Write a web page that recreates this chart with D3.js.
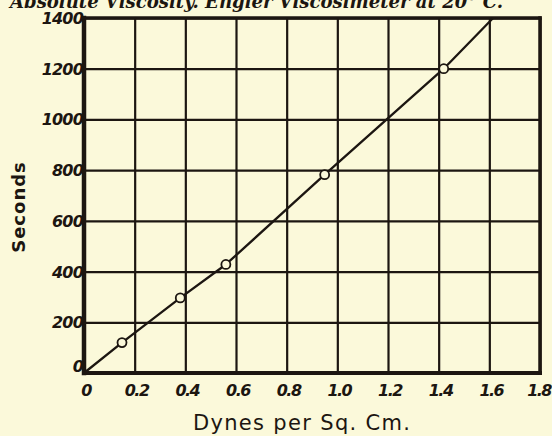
<!DOCTYPE html>
<html>
<head>
<meta charset="utf-8">
<script src="https://cdn.jsdelivr.net/npm/d3@7"></script>
<style>
  html, body { margin: 0; padding: 0; background: #fbf9da; }
  svg { display: block; }
</style>
</head>
<body>
<svg id="chart" width="552" height="436"></svg>
<script>
const svgEl = document.getElementById('chart')
const width = +svgEl.getAttribute('width')
const height = +svgEl.getAttribute('height')
const svg = d3.select('#chart')
const paper = '#fbf9da'
const ink = '#1c1611'

// measured points (dynes per sq cm, seconds)
const dynes = [0.15, 0.38, 0.56, 0.95, 1.42]
const seconds = [120, 296, 428, 782, 1200]
// hand drawn line: from the origin through the points to the top edge
const lineX = [0, 0.15, 0.38, 0.56, 0.95, 1.42, 1.615]
const lineY = [0, 120, 296, 428, 782, 1200, 1400]

const xTicks = [0, 0.2, 0.4, 0.6, 0.8, 1.0, 1.2, 1.4, 1.6, 1.8]
const xTickLabels = ['0', '0.2', '0.4', '0.6', '0.8', '1.0', '1.2', '1.4', '1.6', '1.8']
const yTicks = [0, 200, 400, 600, 800, 1000, 1200, 1400]

const pLeft = 84, pRight = 540, pTop = 18, pBottom = 373

const xScale = d3.scaleLinear().domain([0, 1.8]).range([pLeft, pRight])
const yScale = d3.scaleLinear().domain([0, 1400]).range([pBottom, pTop])

svg.append('rect')
  .attr('width', width).attr('height', height)
  .attr('fill', paper)

// caption line, cut off at the top of the page
svg.append('text')
  .attr('x', 10).attr('y', 8)
  .attr('textLength', 493)
  .attr('lengthAdjust', 'spacingAndGlyphs')
  .attr('font-family', 'DejaVu Serif')
  .attr('font-style', 'italic')
  .attr('font-weight', 'bold')
  .attr('font-size', 18)
  .attr('fill', ink)
  .text('Absolute Viscosity. Engler Viscosimeter at 20° C.')

// grid
svg.append('g')
  .attr('transform', `translate(0, ${pBottom})`)
  .call(d3.axisBottom(xScale).tickValues(xTicks).tickSize(-(pBottom - pTop)).tickFormat(''))
svg.append('g')
  .attr('transform', `translate(${pLeft}, 0)`)
  .call(d3.axisLeft(yScale).tickValues(yTicks).tickSize(-(pRight - pLeft)).tickFormat(''))

svg.selectAll('.domain').remove()
svg.selectAll('.tick line')
  .attr('stroke', ink)
  .attr('stroke-width', 2.2)

// heavy frame
const frame = [
  [pLeft, pBottom, pRight, pBottom, 4],
  [pLeft, pTop, pLeft, pBottom, 4.5],
  [pLeft, pTop, pRight, pTop, 3.5],
  [pRight, pTop, pRight, pBottom, 3.5]
]
svg.selectAll('line.frame')
  .data(frame)
  .enter()
  .append('line')
    .attr('class', 'frame')
    .attr('x1', d => d[0]).attr('y1', d => d[1])
    .attr('x2', d => d[2]).attr('y2', d => d[3])
    .attr('stroke', ink)
    .attr('stroke-width', d => d[4])
    .attr('stroke-linecap', 'square')

// tick labels (last one kept inside the page edge)
svg.selectAll('text.xlab')
  .data(xTicks)
  .enter()
  .append('text')
    .attr('class', 'xlab')
    .attr('x', (d, i) => i === xTicks.length - 1 ? width - 1 : xScale(d) + 2)
    .attr('y', pBottom + 23)
    .attr('text-anchor', (d, i) => i === xTicks.length - 1 ? 'end' : 'middle')
    .attr('font-family', 'DejaVu Sans')
    .attr('font-weight', 'bold')
    .attr('font-style', 'oblique')
    .attr('font-size', 16)
    .attr('letter-spacing', -1.5)
    .attr('fill', ink)
    .text((d, i) => xTickLabels[i])

svg.selectAll('text.ylab')
  .data(yTicks)
  .enter()
  .append('text')
    .attr('class', 'ylab')
    .attr('x', pLeft - 1)
    .attr('y', d => yScale(d) + (d === 0 ? -1 : 6))
    .attr('text-anchor', 'end')
    .attr('font-family', 'DejaVu Sans')
    .attr('font-weight', 'bold')
    .attr('font-style', 'oblique')
    .attr('font-size', 16)
    .attr('letter-spacing', -0.8)
    .attr('fill', ink)
    .text(d => d)

// drawn line
svg.append('path')
  .datum(lineX.map((x, i) => [x, lineY[i]]))
  .attr('fill', 'none')
  .attr('stroke', ink)
  .attr('stroke-width', 2.3)
  .attr('stroke-linejoin', 'round')
  .attr('d', d3.line().x(d => xScale(d[0])).y(d => yScale(d[1])))

// measured points
svg.selectAll('circle.pt')
  .data(dynes)
  .enter()
  .append('circle')
    .attr('class', 'pt')
    .attr('cx', d => xScale(d))
    .attr('cy', (d, i) => yScale(seconds[i]))
    .attr('r', 4.5)
    .attr('fill', paper)
    .attr('stroke', ink)
    .attr('stroke-width', 1.8)

// axis titles
svg.append('text')
  .attr('transform', `translate(25, 207) rotate(-90)`)
  .attr('text-anchor', 'middle')
  .attr('font-family', 'DejaVu Sans')
  .attr('font-weight', 'bold')
  .attr('font-size', 18)
  .attr('letter-spacing', 1)
  .attr('fill', ink)
  .text('Seconds')

svg.append('text')
  .attr('x', 193).attr('y', 430)
  .attr('textLength', 217)
  .attr('lengthAdjust', 'spacing')
  .attr('font-family', 'DejaVu Sans')
  .attr('font-size', 21)
  .attr('fill', ink)
  .text('Dynes per Sq. Cm.')
</script>
</body>
</html>
